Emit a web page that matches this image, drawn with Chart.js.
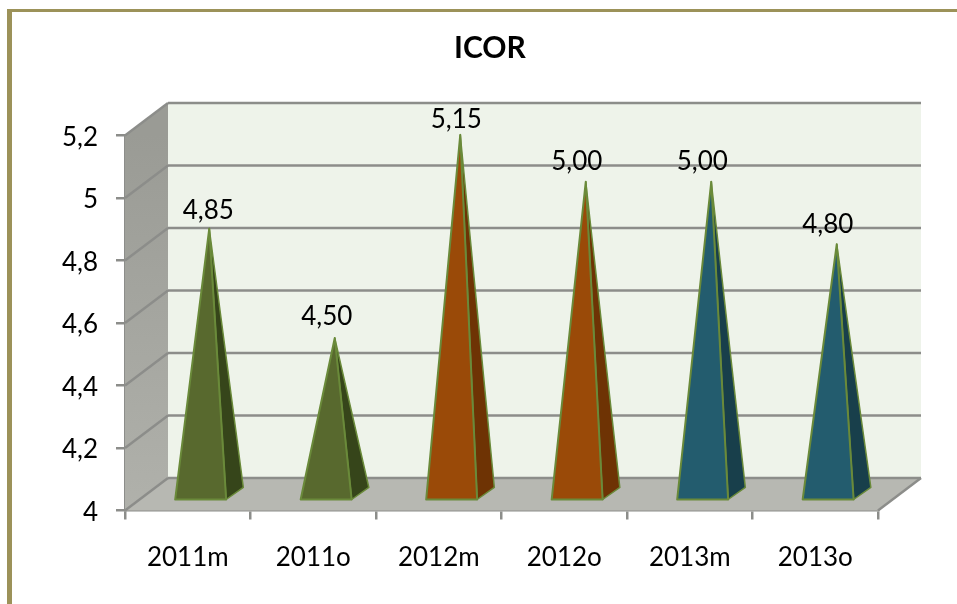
<!DOCTYPE html>
<html>
<head>
<meta charset="utf-8">
<title>ICOR</title>
<script src="https://cdn.jsdelivr.net/npm/chart.js@4"></script>
<style>
html, body { margin: 0; padding: 0; background: #fff; overflow: hidden; }
#frame { position: absolute; left: 7px; top: 9px; right: 0; bottom: 0; border-left: 5px solid #9c9259; border-top: 3px solid #9c9259; }
canvas { position: absolute; left: 0; top: 0; }
</style>
</head>
<body>
<div id="frame"></div>
<canvas id="chart" width="957" height="604"></canvas>
<script>
const categories = ["2011m", "2011o", "2012m", "2012o", "2013m", "2013o"];
const icorValues = [4.85, 4.5, 5.15, 5, 5, 4.8];
const valueLabels = ["4,85", "4,50", "5,15", "5,00", "5,00", "4,80"];
const frontColors = ["#58692e", "#58692e", "#9a4a08", "#9a4a08", "#235c6e", "#235c6e"];
const sideColors = ["#36451a", "#36451a", "#6e3304", "#6e3304", "#183f4b", "#183f4b"];

// fake 3d depth of the box
const depthX = 43;
const depthY = -32.5;
const gridColor = "#8c8d8a";
const fontName = "Lato, 'Open Sans', sans-serif";
// labels are not all centred on the peak in the original
const labelNudge = [[-1, -19], [-8, -22], [-4, -16], [-9, -21], [-9, -21], [-9, -21]];

function poly(ctx, pts, fill, stroke, width) {
    ctx.beginPath();
    pts.forEach((p, i) => i ? ctx.lineTo(p[0], p[1]) : ctx.moveTo(p[0], p[1]));
    ctx.closePath();
    if (fill) {
        ctx.fillStyle = fill;
        ctx.fill();
    }
    if (stroke) {
        ctx.strokeStyle = stroke;
        ctx.lineWidth = width;
        ctx.lineJoin = "round";
        ctx.stroke();
    }
}

function line(ctx, x1, y1, x2, y2) {
    ctx.beginPath();
    ctx.moveTo(x1, y1);
    ctx.lineTo(x2, y2);
    ctx.stroke();
}

const boxPlugin = {
    id: "box3d",
    beforeDraw: (chart) => {
        // title sits right of the plot centre in the original
        chart.titleBlock.left = 2 * 490 - chart.titleBlock.right;
    },
    beforeDatasetsDraw: (chart) => {
        const ctx = chart.ctx;
        const a = chart.chartArea;
        ctx.save();
        // back wall, left wall, floor
        poly(ctx, [[a.left + depthX, a.top + depthY], [a.right + depthX, a.top + depthY], [a.right + depthX, a.bottom + depthY], [a.left + depthX, a.bottom + depthY]], "#eef3ea");
        const wall = ctx.createLinearGradient(0, a.top, 0, a.bottom);
        wall.addColorStop(0, "#9a9b95");
        wall.addColorStop(1, "#b0b1ab");
        poly(ctx, [[a.left, a.top], [a.left + depthX, a.top + depthY], [a.left + depthX, a.bottom + depthY], [a.left, a.bottom]], wall);
        poly(ctx, [[a.left, a.bottom], [a.left + depthX, a.bottom + depthY], [a.right + depthX, a.bottom + depthY], [a.right, a.bottom]], "#b7b8b2");

        ctx.strokeStyle = gridColor;
        ctx.lineWidth = 2.5;
        chart.scales.y.ticks.forEach((t) => {
            const y = chart.scales.y.getPixelForValue(t.value);
            line(ctx, a.left, y, a.left + depthX, y + depthY);
            line(ctx, a.left + depthX, y + depthY, a.right + depthX, y + depthY);
        });
        line(ctx, a.right, a.bottom, a.right + depthX, a.bottom + depthY);
        ctx.restore();
    },
    afterDatasetsDraw: (chart) => {
        const ctx = chart.ctx;
        const meta = chart.getDatasetMeta(0);
        ctx.save();
        meta.data.forEach((bar, i) => {
            const half = bar.width / 2;
            // pyramid stands in the middle of the box depth
            const shiftX = depthX / 2;
            const shiftY = depthY / 2;
            const apex = [bar.x + shiftX, bar.y + shiftY];
            const fl = [bar.x + shiftX - depthX * 0.2 - half, bar.base + shiftY - depthY * 0.2];
            const fr = [fl[0] + bar.width, fl[1]];
            const br = [fr[0] + depthX * 0.4, fr[1] + depthY * 0.37];
            poly(ctx, [fr, br, apex], sideColors[i], "#6a8a3a", 1.5);
            poly(ctx, [fl, fr, apex], frontColors[i], "#6a8a3a", 2);

            ctx.fillStyle = "#000";
            ctx.font = "26px " + fontName;
            ctx.textAlign = "center";
            ctx.textBaseline = "middle";
            ctx.fillText(valueLabels[i], apex[0] + labelNudge[i][0], apex[1] + labelNudge[i][1] + 1);
        });
        ctx.restore();
    }
};

new Chart(document.getElementById("chart"), {
    type: "bar",
    plugins: [boxPlugin],
    data: {
        labels: categories,
        datasets: [{
            data: icorValues,
            base: 4,
            backgroundColor: "transparent",
            borderWidth: 0,
            barPercentage: 0.406,
            categoryPercentage: 1
        }]
    },
    options: {
        responsive: false,
        animation: false,
        layout: { padding: { left: 0, right: 79, top: 0, bottom: 0 } },
        plugins: {
            legend: { display: false },
            tooltip: { enabled: false },
            title: {
                display: true,
                text: "ICOR",
                color: "#000",
                font: { family: fontName, size: 30, weight: "bold" },
                padding: { top: 30, bottom: 69.5 }
            }
        },
        scales: {
            x: {
                afterFit: (scale) => { scale.height = 93.5; },
                grid: { drawOnChartArea: false, color: gridColor, lineWidth: 2.5, tickLength: 9 },
                border: { color: gridColor, width: 2.5 },
                ticks: { color: "#000", padding: 23, maxRotation: 0, font: { family: fontName, size: 26 } }
            },
            y: {
                min: 4,
                max: 5.2,
                afterFit: (scale) => { scale.width = 125; },
                grid: { drawOnChartArea: false, color: gridColor, lineWidth: 2.5, tickLength: 9 },
                border: { color: gridColor, width: 2.5 },
                ticks: {
                    stepSize: 0.2,
                    color: "#000",
                    padding: 18,
                    labelOffset: 2,
                    font: { family: fontName, size: 26 },
                    callback: (v) => String(Math.round(v * 10) / 10).replace(".", ",")
                }
            }
        }
    }
});
</script>
</body>
</html>
